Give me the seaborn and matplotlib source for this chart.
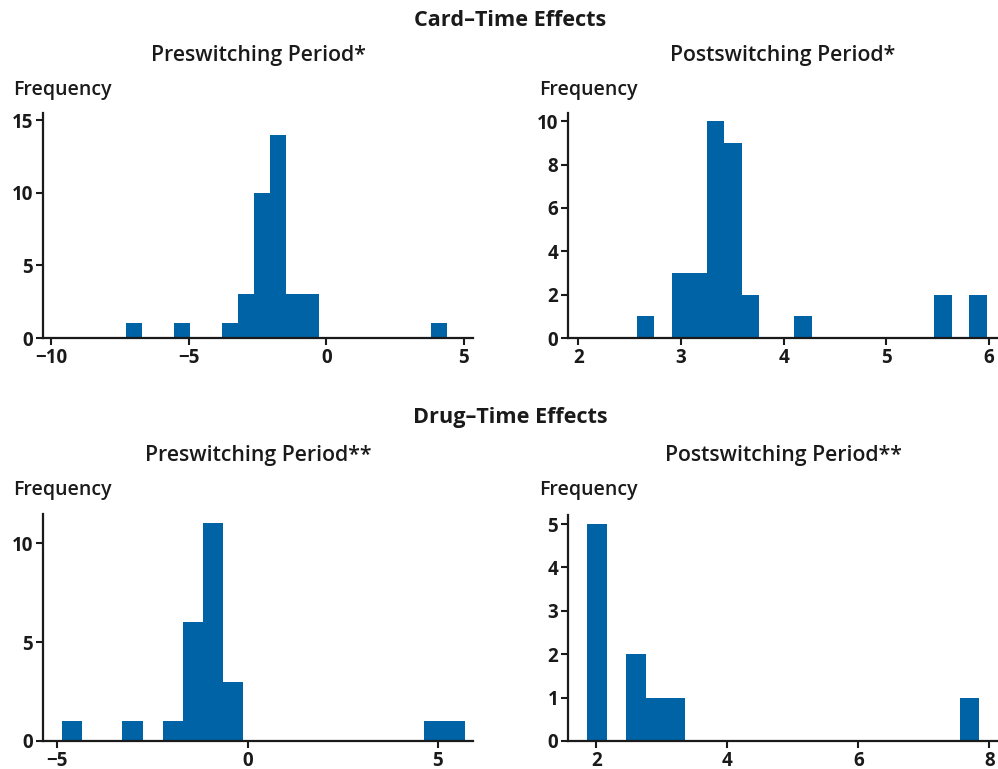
import numpy as np
import pandas as pd
import matplotlib
matplotlib.use("Agg")
import matplotlib.pyplot as plt
import seaborn as sns

# Histogram data: first bin edge, bin width, counts per bin
card_pre_start, card_pre_width = -7.30, 0.585
card_pre_counts = [1, 0, 0, 1, 0, 0, 1, 3, 10, 14, 3, 3, 0, 0, 0, 0, 0, 0, 0, 1]

card_post_start, card_post_width = 2.57, 0.1705
card_post_counts = [1, 0, 3, 3, 10, 9, 2, 0, 0, 1, 0, 0, 0, 0, 0, 0, 0, 2, 0, 2]

drug_pre_start, drug_pre_width = -4.87, 0.5285
drug_pre_counts = [1, 0, 0, 1, 0, 1, 6, 11, 3, 0, 0, 0, 0, 0, 0, 0, 0, 0, 1, 1]

drug_post_start, drug_post_width = 1.857, 0.2995
drug_post_counts = [5, 0, 2, 1, 1, 0, 0, 0, 0, 0, 0, 0, 0, 0, 0, 0, 0, 0, 0, 1]

section_titles = ["Card\u2013Time Effects", "Drug\u2013Time Effects"]
panel_titles = ["Preswitching Period*", "Postswitching Period*",
                "Preswitching Period**", "Postswitching Period**"]

sns.set_style("ticks")
plt.rcParams['font.family'] = ['Open Sans', 'DejaVu Sans']

BLUE = "#0063a6"
INK = "#1a1a1a"

W, H = 998, 769
fig = plt.figure(figsize=(W / 100, H / 100), dpi=100)


def px_axes(left, top, right, bottom):
    return fig.add_axes([left / W, 1 - bottom / H, (right - left) / W, (bottom - top) / H])


panels = [
    (card_pre_start, card_pre_width, card_pre_counts, (43, 113, 473, 338),
     (-10.3, 5.33), (0, 15.5), [-10, -5, 0, 5], [0, 5, 10, 15]),
    (card_post_start, card_post_width, card_post_counts, (568, 113, 998, 338),
     (1.90, 6.09), (0, 10.38), [2, 3, 4, 5, 6], [0, 2, 4, 6, 8, 10]),
    (drug_pre_start, drug_pre_width, drug_pre_counts, (43, 514, 473, 741),
     (-5.37, 5.92), (0, 11.48), [-5, 0, 5], [0, 5, 10]),
    (drug_post_start, drug_post_width, drug_post_counts, (568, 515, 998, 741),
     (1.567, 8.13), (0, 5.21), [2, 4, 6, 8], [0, 1, 2, 3, 4, 5]),
]

for i, (start, width, counts, box, xlim, ylim, xt, yt) in enumerate(panels):
    ax = px_axes(*box)
    edges = start + width * np.arange(len(counts) + 1)
    df = pd.DataFrame({"center": (edges[:-1] + edges[1:]) / 2,
                       "count": np.array(counts, dtype=float)})
    sns.histplot(data=df, x="center", weights="count", bins=list(edges), ax=ax,
                 color=BLUE, alpha=1, linewidth=0, edgecolor=BLUE)
    ax.set_xlim(*xlim)
    ax.set_ylim(*ylim)
    ax.set_xticks(xt)
    ax.set_yticks(yt)
    ax.set_xticklabels([str(v).replace('-', '\u2212') for v in xt])
    ax.set_xlabel("")
    ax.set_ylabel("")
    sns.despine(ax=ax)
    for s in ("left", "bottom"):
        ax.spines[s].set_linewidth(1.6)
        ax.spines[s].set_color(INK)
    ax.tick_params(length=5, width=1.5, color=INK, labelsize=13.5,
                   labelcolor=INK, pad=2)
    for lab in ax.get_xticklabels() + ax.get_yticklabels():
        lab.set_fontweight('bold')
    # panel title and y-label
    cx = (box[0] + box[2]) / 2 / W
    fig.text(cx, 1 - (55 if i < 2 else 455) / H, panel_titles[i],
             ha='center', va='center', fontsize=15.3, fontweight='semibold', color=INK)
    fig.text((13 if box[0] < 100 else 539) / W, 1 - (90 if i < 2 else 490) / H,
             "Frequency", ha='left', va='center', fontsize=14,
             fontweight='semibold', color=INK)

fig.text(510 / W, 1 - 20 / H, section_titles[0], ha='center', va='center',
         fontsize=15.6, fontweight='bold', color=INK)
fig.text(510 / W, 1 - 418 / H, section_titles[1], ha='center', va='center',
         fontsize=15.6, fontweight='bold', color=INK)

fig.savefig("out.png", dpi=100)
